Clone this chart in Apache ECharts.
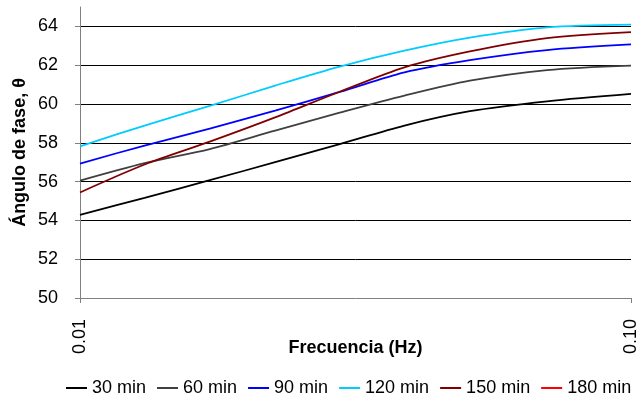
<!DOCTYPE html>
<html>
<head>
<meta charset="utf-8">
<script src="https://cdn.jsdelivr.net/npm/echarts@6/dist/echarts.min.js"></script>
<style>
html,body{margin:0;padding:0;background:#fff;}
#c{width:640px;height:398px;}
</style>
</head>
<body>
<div id="c"></div>
<script>
// Frequencies (Hz) at which values were read
var freqs = [0.01, 0.0131, 0.0172, 0.0226, 0.0296, 0.0388, 0.051, 0.0704, 0.1];
var seriesNames = ['30 min', '60 min', '90 min', '120 min', '150 min', '180 min'];
var s30  = [54.29, 55.16, 56.07, 57.00, 57.93, 58.89, 59.63, 60.14, 60.52];
var s60  = [56.05, 56.95, 57.68, 58.63, 59.55, 60.43, 61.20, 61.75, 61.98];
var s90  = [56.93, 57.86, 58.73, 59.66, 60.62, 61.63, 62.26, 62.78, 63.07];
var s120 = [57.82, 58.89, 59.90, 60.95, 61.93, 62.75, 63.42, 63.95, 64.09];
var s150 = [55.44, 56.88, 58.06, 59.31, 60.63, 61.89, 62.71, 63.40, 63.71];
var s180 = [];
var yTicks = [50, 52, 54, 56, 58, 60, 62, 64];
var colors = ['#000000', '#404040', '#0000ff', '#00ccff', '#800000', '#ff0000'];

var FONT = "'Liberation Sans', Arial, sans-serif";
function pairs(vals) { return vals.map(function (v, i) { return [freqs[i], v]; }); }
var allVals = [s30, s60, s90, s120, s150, s180];

var chart = echarts.init(document.getElementById('c'), null, {renderer: 'canvas'});
chart.setOption({
  animation: false,
  backgroundColor: '#ffffff',
  textStyle: {fontFamily: FONT},
  grid: {left: 80, right: 8, top: 7, bottom: 100, containLabel: false},
  legend: {
    left: 66, top: 379, width: 600, padding: 0,
    itemWidth: 21, itemHeight: 2, itemGap: 11,
    icon: 'rect',
    textStyle: {fontSize: 18, color: '#000', fontFamily: FONT},
    data: seriesNames
  },
  xAxis: {
    type: 'log', logBase: 10, min: 0.01, max: 0.1,
    name: 'Frecuencia (Hz)', nameLocation: 'middle', nameGap: 41, nameMoveOverlap: false,
    nameTextStyle: {fontSize: 18, fontWeight: 'bold', color: '#000', fontFamily: FONT},
    axisLine: {lineStyle: {color: '#808080', width: 1}},
    axisTick: {show: true, length: 5, lineStyle: {color: '#808080'}},
    minorTick: {show: false},
    splitLine: {show: false},
    axisLabel: {rotate: 90, margin: 21, fontSize: 18, color: '#000', fontFamily: FONT,
      formatter: function (v) { return Number(v).toFixed(2); }}
  },
  yAxis: {
    type: 'value', min: 50, max: 65, interval: 2,
    name: 'Ángulo de fase, θ', nameLocation: 'middle', nameGap: 51, nameMoveOverlap: false,
    nameTextStyle: {fontSize: 18, fontWeight: 'bold', color: '#000', fontFamily: FONT},
    axisLine: {show: true, lineStyle: {color: '#808080', width: 1}},
    axisTick: {show: true, length: 5, lineStyle: {color: '#808080'}, customValues: yTicks},
    axisLabel: {margin: 22, fontSize: 18, color: '#000', fontFamily: FONT, customValues: yTicks},
    splitLine: {show: true, showMinLine: false, lineStyle: {color: '#000', width: 1}}
  },
  series: seriesNames.map(function (n, i) {
    return {
      name: n, type: 'line', data: pairs(allVals[i]),
      smooth: 0.3, showSymbol: false, symbol: 'none',
      lineStyle: {color: colors[i], width: 1.8},
      itemStyle: {color: colors[i]}
    };
  })
});
</script>
</body>
</html>
